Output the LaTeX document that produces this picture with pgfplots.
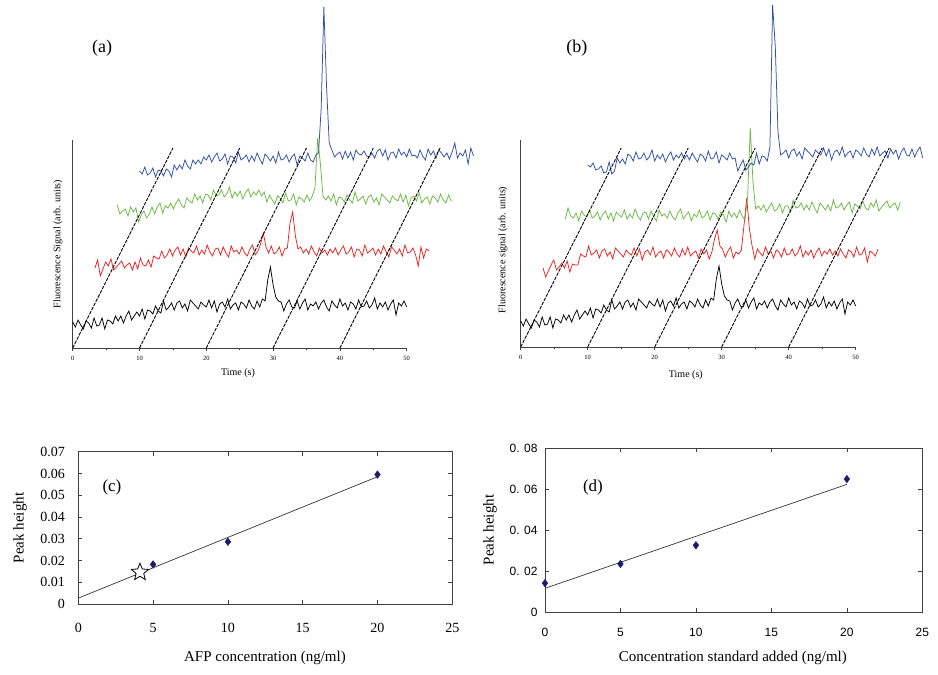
\documentclass[border=0pt]{standalone}
\usepackage{fontspec}
\setmainfont{Liberation Serif}
\newfontfamily\ticksans{Liberation Sans}
\usepackage{pgfplots}
\usepackage{pgfplotstable}
\pgfplotsset{compat=1.18}
\usetikzlibrary{plotmarks}

\definecolor{tblue}{RGB}{48,78,165}
\definecolor{tgreen}{RGB}{105,185,65}
\definecolor{tred}{RGB}{238,32,32}
\definecolor{navy}{RGB}{28,28,110}

% open five-pointed star
\pgfdeclareplotmark{ostar}{%
  \pgfpathmoveto{\pgfpointpolar{90}{\pgfplotmarksize}}%
  \pgfpathlineto{\pgfpointpolar{126}{0.45\pgfplotmarksize}}%
  \pgfpathlineto{\pgfpointpolar{162}{\pgfplotmarksize}}%
  \pgfpathlineto{\pgfpointpolar{198}{0.45\pgfplotmarksize}}%
  \pgfpathlineto{\pgfpointpolar{234}{\pgfplotmarksize}}%
  \pgfpathlineto{\pgfpointpolar{270}{0.45\pgfplotmarksize}}%
  \pgfpathlineto{\pgfpointpolar{306}{\pgfplotmarksize}}%
  \pgfpathlineto{\pgfpointpolar{342}{0.45\pgfplotmarksize}}%
  \pgfpathlineto{\pgfpointpolar{18}{\pgfplotmarksize}}%
  \pgfpathlineto{\pgfpointpolar{54}{0.45\pgfplotmarksize}}%
  \pgfpathclose
  \pgfusepathqfillstroke
}

% traces of panel (a); t is time from the start of each trace
\pgfplotstableread{
t k r g b
0 26 80 143 177
0.4 21 88 134 174
0.8 28 72 137 181
1.2 23 79 139 173
1.6 19 86 132 175
2.0 27 82 141 180
2.4 25 89 136 171
2.8 20 78 140 178
3.2 30 81 126 177
3.6 22 84 133 172
4.0 23 87 137 179
4.4 30 80 130 177
4.8 19 83 134 171
5.2 28 85 141 183
5.6 27 78 134 178
6.0 24 86 141 183
6.4 32 79 145 179
6.8 27 90 135 188
7.2 32 83 142 182
7.6 25 82 140 179
8.0 32 88 145 188
8.4 37 81 139 184
8.8 28 92 145 188
9.2 32 90 149 184
9.6 36 89 143 191
10.0 32 97 140 188
10.4 39 90 150 193
10.8 29 93 147 186
11.2 38 99 145 191
11.6 37 92 154 195
12.0 34 98 148 187
12.4 42 101 152 189
12.8 37 93 145 194
13.2 35 99 154 184
13.6 47 91 153 192
14.0 38 100 148 191
14.4 41 97 158 185
14.8 45 95 152 196
15.2 38 102 153 188
15.6 45 93 158 190
16.0 47 98 151 193
16.4 40 94 154 186
16.8 44 103 161 192
17.2 37 96 150 187
17.6 48 92 156 195
18.0 45 99 152 189
18.4 42 100 157 184
18.8 39 93 149 194
19.2 46 101 155 191
19.6 43 95 159 187
20.0 41 91 151 192
20.4 48 102 156 185
20.8 40 96 153 196
21.2 47 98 158 188
21.6 36 94 152 189
22.0 44 101 156 193
22.4 46 95 146 186
22.8 41 92 153 191
23.2 49 99 148 194
23.6 39 103 144 183
24.0 43 93 152 192
24.4 45 97 150 190
24.8 38 104 145 187
25.2 46 115 155 195
25.6 44 101 147 188
26.0 40 95 148 186
26.4 48 102 154 193
26.8 42 94 143 195
27.2 39 96 151 240
27.6 47 101 149 341
28.0 41 92 146 262
28.4 49 99 153 205
28.8 47 100 147 198
29.2 68 125 152 191
29.6 81 136 160 194
30.0 63 112 210 196
30.4 51 99 185 189
30.8 47 101 152 197
31.2 46 95 148 190
31.6 37 99 152 196
32.0 44 94 147 188
32.4 48 102 154 198
32.8 41 96 143 194
33.2 40 92 151 193
33.6 47 100 150 197
34.0 39 95 146 192
34.4 45 98 153 191
34.8 49 93 148 195
35.2 38 99 145 190
35.6 44 95 156 197
36.0 42 100 147 199
36.4 46 93 149 192
36.8 39 98 152 198
37.2 45 102 144 188
37.6 48 94 151 195
38.0 41 96 153 196
38.4 37 101 146 190
38.8 47 91 150 199
39.2 43 99 143 193
39.6 40 98 154 196
40.0 49 92 151 191
40.4 42 103 148 199
40.8 45 95 145 192
41.2 38 97 152 193
41.6 46 100 149 190
42.0 44 93 147 198
42.4 39 99 154 192
42.8 48 94 146 188
43.2 41 102 153 199
43.6 42 96 142 193
44.0 47 91 150 197
44.4 40 101 152 190
44.8 43 98 147 198
45.2 50 94 155 195
45.6 39 99 145 191
46.0 45 92 149 195
46.4 41 103 151 189
46.8 46 95 144 196
47.2 38 96 152 205
47.6 44 100 150 190
48.0 48 93 146 195
48.4 33 82 154 192
48.8 45 101 148 198
49.2 42 90 145 184
49.6 47 99 153 200
50.0 41 97 147 192
}\traceA

% traces of panel (b); the black trace is the one of panel (a)
\pgfplotstableread{
t r g b
0 79 128 182
0.4 70 139 180
0.8 76 131 184
1.2 82 129 177
1.6 87 134 178
2.0 77 126 181
2.4 80 136 174
2.8 84 132 175
3.2 79 130 185
3.6 86 137 173
4.0 75 129 176
4.4 83 131 189
4.8 82 135 184
5.2 82 127 188
5.6 93 133 183
6.0 91 136 193
6.4 90 128 191
6.8 101 134 186
7.2 92 126 195
7.6 94 135 188
8.0 97 132 189
8.4 89 130 194
8.8 96 137 187
9.2 98 128 190
9.6 91 133 197
10.0 95 129 186
10.4 88 138 192
10.8 99 131 188
11.2 96 127 193
11.6 93 134 185
12.0 90 135 191
12.4 97 128 195
12.8 94 136 187
13.2 92 130 192
13.6 99 126 189
14.0 91 137 194
14.4 98 131 188
14.8 87 133 192
15.2 95 129 187
15.6 97 136 194
16.0 92 130 189
16.4 100 127 185
16.8 90 134 193
17.2 94 138 191
17.6 96 128 186
18.0 89 132 196
18.4 97 135 188
18.8 95 126 189
19.2 91 133 195
19.6 99 130 184
20.0 93 137 192
20.4 90 129 190
20.8 98 131 187
21.2 92 136 194
21.6 100 127 188
22.0 91 134 189
22.4 94 133 176
22.8 96 128 182
23.2 89 135 187
23.6 98 132 177
24.0 93 125 180
24.4 97 136 184
24.8 88 130 182
25.2 95 134 194
25.6 108 129 183
26.0 117 137 191
26.4 101 131 190
26.8 98 127 186
27.2 90 150 200
27.6 96 219 342
28.0 100 165 300
28.4 89 138 215
28.8 95 141 192
29.2 93 137 194
29.6 97 142 197
30.0 122 135 189
30.4 149 140 196
30.8 118 144 198
31.2 101 136 191
31.6 88 138 195
32.0 98 143 188
32.4 94 134 199
32.8 91 141 196
33.2 100 141 193
33.6 93 135 190
34.0 96 147 197
34.4 89 139 194
34.8 97 140 192
35.2 95 144 199
35.6 90 137 191
36.0 99 142 198
36.4 92 137 187
36.8 93 145 195
37.2 98 139 197
37.6 91 134 192
38.0 94 144 200
38.4 101 141 190
38.8 90 137 194
39.2 96 142 196
39.6 92 136 189
40.0 97 147 197
40.4 89 139 195
40.8 95 140 191
41.2 99 144 199
41.6 91 137 193
42.0 96 142 190
42.4 93 145 198
42.8 98 134 192
43.2 92 143 200
43.6 96 141 191
44.0 91 138 194
44.4 98 146 196
44.8 93 139 189
45.2 89 137 198
45.6 97 144 193
46.0 95 140 197
46.4 90 147 188
46.8 100 136 195
47.2 92 140 199
47.6 93 143 192
48.0 99 146 191
48.4 85 139 198
48.8 96 142 190
49.2 94 144 196
49.6 91 137 200
50.0 98 145 189
}\traceB

\pgfplotsset{
  trace/.style={line width=0.75pt, no marks},
  guide/.style={black, line width=0.9pt, dash pattern=on 3.5pt off 1.2pt, no marks},
  wf/.style={scale only axis, anchor=south west,
    axis x line=bottom, axis y line=left,
    axis line style={-, black!75, line width=0.7pt},
    xmin=0, xmax=50, ymin=0,
    xtick={0,10,20,30,40,50}, minor xtick={5,15,25,35,45}, ytick=\empty,
    tick align=outside, major tick length=3pt, minor tick length=2.5pt,
    tick style={black!75, line width=0.6pt},
    xticklabel style={font=\fontsize{6.5}{7}\selectfont, yshift=-1.5pt},
    /pgf/number format/assume math mode=true,
    label style={font=\fontsize{10}{12}\selectfont},
    clip=false},
  cal/.style={scale only axis, anchor=south west,
    xmin=0, xmax=25, ymin=0, xtick={0,5,10,15,20,25},
    scaled x ticks=false, scaled y ticks=false,
    tick align=inside, major tick length=4pt,
    axis line style={black!75, line width=0.7pt},
    tick style={black!75, line width=0.6pt},
    /pgf/number format/assume math mode=true,
    label style={font=\fontsize{15}{17}\selectfont},
    clip=false},
}

\begin{document}
\begin{tikzpicture}
\useasboundingbox (0,0) rectangle (938pt,675pt);

% (a)
\begin{axis}[wf, at={(72.7pt,327pt)}, width=334pt, height=208pt, ymax=208,
  xlabel={Time (s)}, ylabel={Fluorescence Signal (arb. units)},
  xlabel style={at={(axis description cs:0.495,-0.12)}, anchor=center},
  ylabel style={at={(axis description cs:-0.044,0.5)}, anchor=center}]
\addplot[trace, black] table[x=t, y=k]{\traceA};
\addplot[trace, tred] table[x expr=\thisrow{t}+3.333, y=r]{\traceA};
\addplot[trace, tgreen] table[x expr=\thisrow{t}+6.667, y=g]{\traceA};
\addplot[trace, tblue] table[x expr=\thisrow{t}+10, y=b]{\traceA};
\addplot[guide] coordinates {(0,0) (15,200)};
\addplot[guide] coordinates {(10,0) (25,200)};
\addplot[guide] coordinates {(20,0) (35,200)};
\addplot[guide] coordinates {(30,0) (45,200)};
\addplot[guide] coordinates {(40,0) (55,200)};
\node[font=\fontsize{18}{20}\selectfont] at (axis cs:4.4,300) {(a)};
\end{axis}

% (b)
\begin{axis}[wf, at={(520.7pt,328pt)}, width=335pt, height=207pt, ymax=207,
  xlabel={Time (s)}, ylabel={Fluorescence signal (arb. units)},
  xlabel style={at={(axis description cs:0.493,-0.135)}, anchor=center},
  ylabel style={at={(axis description cs:-0.053,0.469)}, anchor=center}]
\addplot[trace, black] table[x=t, y=k]{\traceA};
\addplot[trace, tred] table[x expr=\thisrow{t}+3.333, y=r]{\traceB};
\addplot[trace, tgreen] table[x expr=\thisrow{t}+6.667, y=g]{\traceB};
\addplot[trace, tblue] table[x expr=\thisrow{t}+10, y=b]{\traceB};
\addplot[guide] coordinates {(0,0) (15,199)};
\addplot[guide] coordinates {(10,0) (25,199)};
\addplot[guide] coordinates {(20,0) (35,199)};
\addplot[guide] coordinates {(30,0) (45,199)};
\addplot[guide] coordinates {(40,0) (55,199)};
\node[font=\fontsize{18}{20}\selectfont] at (axis cs:8.4,299) {(b)};
\end{axis}

% (c)
\begin{axis}[cal, at={(78.3pt,71pt)}, width=374pt, height=152.3pt, ymax=0.07,
  ytick={0,0.01,0.02,0.03,0.04,0.05,0.06,0.07},
  yticklabels={0,0.01,0.02,0.03,0.04,0.05,0.06,0.07},
  xticklabels={0,5,10,15,20,25},
  ticklabel style={font=\fontsize{14}{16}\selectfont},
  yticklabel style={xshift=-10pt}, xticklabel style={yshift=-16pt},
  xlabel={AFP concentration (ng/ml)}, ylabel={Peak height},
  xlabel style={at={(axis description cs:0.499,-0.355)}, anchor=center},
  ylabel style={at={(axis description cs:-0.156,0.499)}, anchor=center}]
\addplot[black!80, line width=0.7pt] coordinates {(0,0.0027) (20,0.0585)};
\addplot[only marks, mark=diamond*, mark size=3.8pt, navy] coordinates {(5,0.0182) (10,0.0286) (20,0.0595)};
\addplot[only marks, mark=ostar, mark size=9pt, mark options={draw=black, fill=white, line width=0.8pt}] coordinates {(4.12,0.0146)};
\node[font=\fontsize{17}{19}\selectfont] at (axis cs:2.25,0.0538) {(c)};
\end{axis}

% (d)
\begin{axis}[cal, at={(545pt,62.7pt)}, width=377.3pt, height=164pt, ymax=0.08,
  ytick={0,0.02,0.04,0.06,0.08},
  yticklabels={0,0. 02,0. 04,0. 06,0. 08},
  xticklabels={0,5,10,15,20,25},
  ticklabel style={font=\ticksans\fontsize{12}{14}\selectfont},
  yticklabel style={xshift=-4pt}, xticklabel style={yshift=-12pt},
  xlabel={Concentration standard added (ng/ml)}, ylabel={Peak height},
  xlabel style={at={(axis description cs:0.498,-0.279)}, anchor=center},
  ylabel style={at={(axis description cs:-0.146,0.502)}, anchor=center}]
\addplot[black!80, line width=0.7pt] coordinates {(0,0.0117) (20,0.0624)};
\addplot[only marks, mark=diamond*, mark size=3.8pt, navy] coordinates {(0,0.0142) (5,0.0236) (10,0.0327) (20,0.0650)};
\node[font=\fontsize{17}{19}\selectfont] at (axis cs:3.18,0.0611) {(d)};
\end{axis}
\end{tikzpicture}
\end{document}
